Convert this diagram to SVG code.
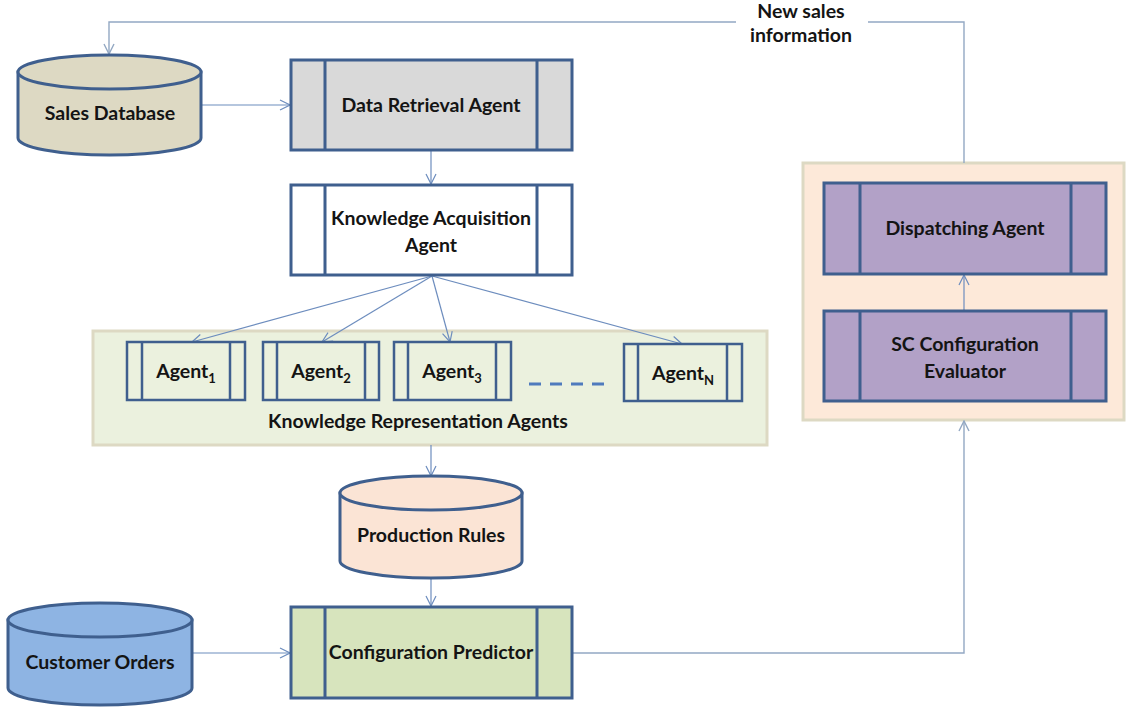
<svg xmlns="http://www.w3.org/2000/svg" width="1126" height="708" viewBox="0 0 1126 708">
  <style>
    .lbl { font-family: Lato, "Open Sans", "Liberation Sans", sans-serif; font-weight: 700; font-size: 19.5px; fill: #141414; text-anchor: middle; }
    .sub { font-size: 13px; }
    .box { stroke: #3F5F8E; stroke-width: 3; }
    .bar { stroke: #3F5F8E; stroke-width: 3; fill: none; }
    .small { stroke-width: 2.5; }
    .panel { stroke: #DDD9C3; stroke-width: 3; }
    .conn { stroke: #6D8DBE; stroke-width: 1.2; fill: none; }
    .loop { stroke: #93A8C3; stroke-width: 1.4; fill: none; }
  </style>
  <defs>
    <marker id="open" markerUnits="userSpaceOnUse" markerWidth="12" markerHeight="12" refX="11" refY="6" orient="auto">
      <path d="M1,1 L11,6 L1,11" fill="none" stroke="#6D8DBE" stroke-width="1.2"/>
    </marker>
    <marker id="openLoop" markerUnits="userSpaceOnUse" markerWidth="12" markerHeight="12" refX="11" refY="6" orient="auto">
      <path d="M1,1 L11,6 L1,11" fill="none" stroke="#93A8C3" stroke-width="1.4"/>
    </marker>
  </defs>

  <rect width="1126" height="708" fill="#FFFFFF"/>

  <!-- background panels -->
  <g id="kra-panel">
    <rect class="panel" x="93" y="331" width="674" height="114" fill="#EBF1DE"/>
    <text class="lbl" x="418" y="428">Knowledge Representation Agents</text>
  </g>
  <g id="dispatch-panel">
    <rect class="panel" x="803" y="163" width="321" height="257" fill="#FDE9D9"/>
  </g>

  <!-- connectors -->
  <g id="connectors">
    <path class="conn" d="M201,105 L290,105" marker-end="url(#open)"/>
    <path class="conn" d="M431,150 L431,184" marker-end="url(#open)"/>
    <path class="conn" d="M432,276 L192,342" marker-end="url(#open)"/>
    <path class="conn" d="M432,276 L322,342" marker-end="url(#open)"/>
    <path class="conn" d="M432,276 L450,342" marker-end="url(#open)"/>
    <path class="conn" d="M432,276 L682,344" marker-end="url(#open)"/>
    <path class="conn" d="M431,445 L431,476" marker-end="url(#open)"/>
    <path class="conn" d="M431,578 L431,606" marker-end="url(#open)"/>
    <path class="conn" d="M192,653 L290,653" marker-end="url(#open)"/>
    <path class="loop" d="M572,653 L964,653 L964,421" marker-end="url(#openLoop)"/>
    <path class="conn" d="M964,311 L964,275" marker-end="url(#open)"/>
    <path class="loop" d="M964,163 L964,22 L868,22"/>
    <path class="loop" d="M736,22 L109,22 L109,54" marker-end="url(#openLoop)"/>
    <text class="lbl" x="801" y="18">New sales</text>
    <text class="lbl" x="801" y="42">information</text>
  </g>

  <!-- data stores -->
  <g id="sales-database">
    <path class="box" d="M18,72 L18,138 A91.5,17 0 0 0 201,138 L201,72 Z" fill="#DDD9C3"/>
    <ellipse class="box" cx="109.5" cy="72" rx="91.5" ry="17" fill="#DDD9C3"/>
    <text class="lbl" x="110" y="120">Sales Database</text>
  </g>
  <g id="production-rules">
    <path class="box" d="M340,493 L340,561 A91,17 0 0 0 522,561 L522,493 Z" fill="#FBE4D5"/>
    <ellipse class="box" cx="431" cy="493" rx="91" ry="17" fill="#FBE4D5"/>
    <text class="lbl" x="431" y="542">Production Rules</text>
  </g>
  <g id="customer-orders">
    <path class="box" d="M8,620 L8,688 A92,17 0 0 0 192,688 L192,620 Z" fill="#8EB4E3"/>
    <ellipse class="box" cx="100" cy="620" rx="92" ry="17" fill="#8EB4E3"/>
    <text class="lbl" x="100" y="669">Customer Orders</text>
  </g>

  <!-- process agents -->
  <g id="data-retrieval-agent">
    <rect class="box" x="291" y="60" width="281" height="90" fill="#D9D9D9"/>
    <path class="bar" d="M325,60 V150 M537,60 V150"/>
    <text class="lbl" x="431" y="112">Data Retrieval Agent</text>
  </g>
  <g id="knowledge-acquisition-agent">
    <rect class="box" x="291" y="185" width="281" height="90" fill="#FFFFFF"/>
    <path class="bar" d="M325,185 V275 M537,185 V275"/>
    <text class="lbl" x="431" y="225">Knowledge Acquisition</text>
    <text class="lbl" x="431" y="252">Agent</text>
  </g>
  <g id="agent-1">
    <rect class="box small" x="127" y="342" width="118" height="58" fill="#EBF1DE"/>
    <path class="bar small" d="M142,342 V400 M230,342 V400"/>
    <text class="lbl" x="186" y="378">Agent<tspan class="sub" dy="5">1</tspan></text>
  </g>
  <g id="agent-2">
    <rect class="box small" x="263" y="342" width="116" height="58" fill="#EBF1DE"/>
    <path class="bar small" d="M277,342 V400 M365,342 V400"/>
    <text class="lbl" x="321" y="378">Agent<tspan class="sub" dy="5">2</tspan></text>
  </g>
  <g id="agent-3">
    <rect class="box small" x="394" y="342" width="117" height="58" fill="#EBF1DE"/>
    <path class="bar small" d="M408,342 V400 M496,342 V400"/>
    <text class="lbl" x="452" y="378">Agent<tspan class="sub" dy="5">3</tspan></text>
  </g>
  <g id="ellipsis">
    <path d="M529,384 H605" stroke="#4F7BBD" stroke-width="3" stroke-dasharray="12,9" fill="none"/>
  </g>
  <g id="agent-n">
    <rect class="box small" x="624" y="344" width="118" height="57" fill="#EBF1DE"/>
    <path class="bar small" d="M638,344 V401 M727,344 V401"/>
    <text class="lbl" x="683" y="380">Agent<tspan class="sub" dy="5">N</tspan></text>
  </g>
  <g id="configuration-predictor">
    <rect class="box" x="291" y="607" width="281" height="91" fill="#D7E4BD"/>
    <path class="bar" d="M325,607 V698 M537,607 V698"/>
    <text class="lbl" x="431" y="659">Configuration Predictor</text>
  </g>
  <g id="dispatching-agent">
    <rect class="box" x="824" y="183" width="282" height="91" fill="#B2A1C7"/>
    <path class="bar" d="M860,183 V274 M1071,183 V274"/>
    <text class="lbl" x="965" y="235">Dispatching Agent</text>
  </g>
  <g id="sc-configuration-evaluator">
    <rect class="box" x="824" y="311" width="282" height="90" fill="#B2A1C7"/>
    <path class="bar" d="M860,311 V401 M1071,311 V401"/>
    <text class="lbl" x="965" y="351">SC Configuration</text>
    <text class="lbl" x="965" y="378">Evaluator</text>
  </g>
</svg>
